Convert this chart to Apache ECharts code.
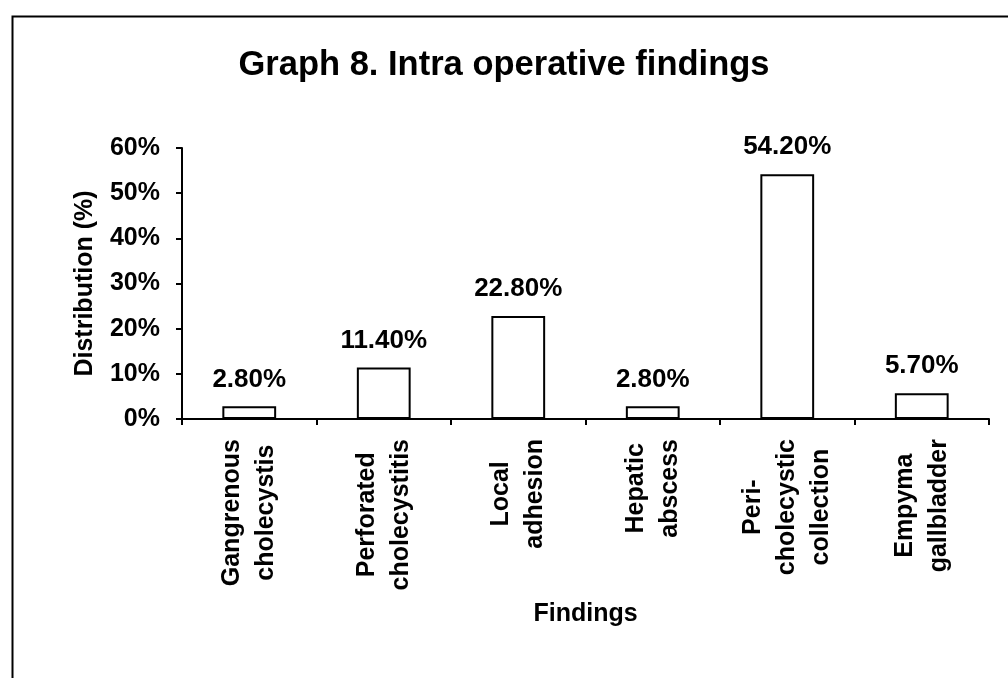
<!DOCTYPE html>
<html>
<head>
<meta charset="utf-8">
<script src="https://cdn.jsdelivr.net/npm/echarts@6/dist/echarts.min.js"></script>
<style>
html,body{margin:0;padding:0;background:#fff;}
#chart{width:1008px;height:678px;}
</style>
</head>
<body>
<div id="chart"></div>
<script>
const categories = ['Gangrenous\ncholecystis', 'Perforated\ncholecystitis', 'Local\nadhesion', 'Hepatic\nabscess', 'Peri-\ncholecystic\ncollection', 'Empyma\ngallbladder'];
const values = [2.8, 11.4, 22.8, 2.8, 54.2, 5.7];
const yTicks = { min: 0, max: 60, interval: 10 };

const FONT = '"Liberation Sans", Arial, sans-serif';
const chart = echarts.init(document.getElementById('chart'), null, { renderer: 'canvas' });
chart.setOption({
  backgroundColor: '#fff',
  animation: false,
  graphic: [{
    type: 'rect', left: 10, top: 14,
    shape: { x: 0, y: 0, width: 1100, height: 800 },
    style: { fill: 'none', stroke: '#000', lineWidth: 2 },
    silent: true
  }],
  title: {
    text: 'Graph 8. Intra operative findings',
    left: 'center', top: 43,
    textStyle: { fontFamily: FONT, fontSize: 34.5, fontWeight: 'bold', color: '#000' }
  },
  grid: { left: 182, right: 19, top: 148, bottom: 259, containLabel: false },
  xAxis: {
    type: 'category',
    data: categories,
    name: 'Findings',
    nameLocation: 'middle',
    nameGap: 183,
    nameTextStyle: { fontFamily: FONT, fontSize: 25, fontWeight: 'bold', color: '#000' },
    axisLine: { lineStyle: { color: '#000', width: 2 } },
    axisTick: { show: true, length: 6, lineStyle: { color: '#000', width: 2 } },
    axisLabel: {
      rotate: 90, interval: 0, margin: 20,
      fontFamily: FONT, fontSize: 25, fontWeight: 'bold', color: '#000',
      formatter: v => v.split('\n').map(s => '{c|' + s + '}').join('\n'),
      rich: { c: { align: 'center', fontFamily: FONT, fontSize: 25, fontWeight: 'bold', color: '#000', lineHeight: 34 } }
    }
  },
  yAxis: {
    type: 'value',
    min: yTicks.min, max: yTicks.max, interval: yTicks.interval,
    name: 'Distribution (%)',
    nameLocation: 'middle',
    nameGap: 84,
    nameRotate: 90,
    nameTextStyle: { fontFamily: FONT, fontSize: 25, fontWeight: 'bold', color: '#000' },
    axisLine: { show: true, lineStyle: { color: '#000', width: 2 } },
    axisTick: { show: true, length: 6, lineStyle: { color: '#000', width: 2 } },
    splitLine: { show: false },
    axisLabel: {
      margin: 22, formatter: '{value}%',
      fontFamily: FONT, fontSize: 25, fontWeight: 'bold', color: '#000'
    }
  },
  series: [{
    type: 'bar',
    data: values,
    barWidth: '40%',
    itemStyle: { color: '#fff', borderColor: '#000', borderWidth: 2 },
    label: {
      show: true, position: 'top', distance: 14,
      formatter: p => p.value.toFixed(2) + '%',
      fontFamily: FONT, fontSize: 26, fontWeight: 'bold', color: '#000'
    }
  }]
});
</script>
</body>
</html>
